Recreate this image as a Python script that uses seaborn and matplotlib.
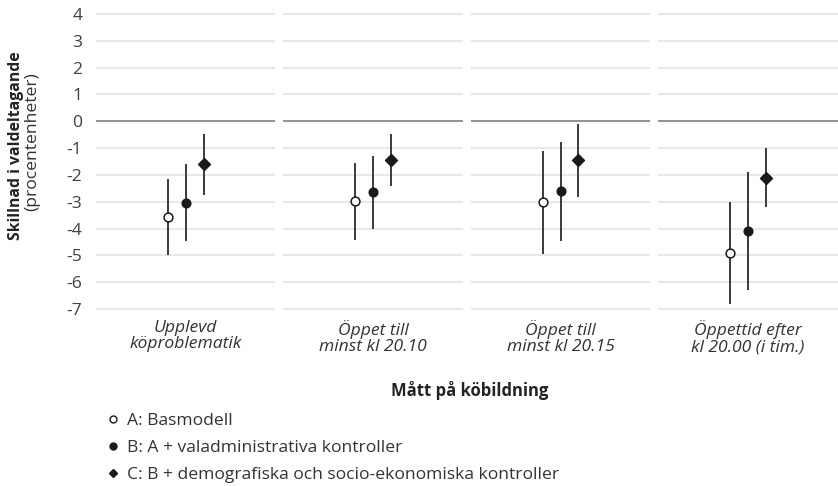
import pandas as pd
import seaborn as sns
import matplotlib.pyplot as plt
from matplotlib.lines import Line2D

# categories (x facets)
categories = [
    "Upplevd\nköproblematik",
    "Öppet till\nminst kl 20.10",
    "Öppet till\nminst kl 20.15",
    "Öppettid efter\nkl 20.00 (i tim.)",
]
models = [
    "A: Basmodell",
    "B: A + valadministrativa kontroller",
    "C: B + demografiska och socio-ekonomiska kontroller",
]

# point estimates and confidence interval bounds per model
est_a = [-3.57, -2.99, -3.02, -4.91]
lo_a = [-4.97, -4.44, -4.96, -6.80]
hi_a = [-2.16, -1.54, -1.11, -3.01]

est_b = [-3.04, -2.64, -2.60, -4.10]
lo_b = [-4.48, -4.01, -4.47, -6.30]
hi_b = [-1.59, -1.28, -0.78, -1.89]

est_c = [-1.60, -1.44, -1.46, -2.10]
lo_c = [-2.73, -2.42, -2.83, -3.21]
hi_c = [-0.49, -0.48, -0.09, -0.99]

y_ticks = list(range(-7, 5))

rows = []
for m, est, lo, hi in zip(models, [est_a, est_b, est_c], [lo_a, lo_b, lo_c], [hi_a, hi_b, hi_c]):
    for c, e, l, h in zip(categories, est, lo, hi):
        rows.append({"category": c, "model": m, "est": e, "lo": l, "hi": h})
df = pd.DataFrame(rows)
df["pos"] = df["model"].map({models[0]: -0.1, models[1]: 0.0, models[2]: 0.1})

sns.set_style("white")
plt.rcParams["font.family"] = ["Open Sans", "DejaVu Sans"]
plt.rcParams["axes.unicode_minus"] = False

fs = 12.6
ink = "#1a1a1a"
style = {
    models[0]: dict(marker="o", color="white", s=40),
    models[1]: dict(marker="o", color=ink, s=38),
    models[2]: dict(marker="D", color=ink, s=36),
}

fig, axes = plt.subplots(1, 4, figsize=(8.38, 4.86), dpi=100, sharey=True,
                         gridspec_kw={"wspace": 0.0446})
fig.subplots_adjust(left=0.1146, right=0.9996, top=0.9767, bottom=0.3586)

for ax, cat in zip(axes, categories):
    sub = df[df["category"] == cat]
    ax.vlines(sub["pos"], sub["lo"], sub["hi"], color="#2b2b2b", lw=1.3, zorder=2)
    for m in models:
        s = sub[sub["model"] == m]
        sns.scatterplot(data=s, x="pos", y="est", ax=ax, edgecolor=ink,
                        linewidth=1.1, zorder=3, legend=False, **style[m])
    ax.set_xlim(-0.5, 0.5)
    ax.set_ylim(-7.1, 4.1)
    ax.set_yticks(y_ticks)
    ax.set_xticks([0])
    ax.set_xticklabels([cat], fontsize=fs, style="italic", color="#333333",
                       linespacing=1.0)
    ax.set_xlabel("")
    ax.set_ylabel("")
    ax.grid(axis="y", color="#e8e8e8", lw=1.5)
    ax.axhline(0, color="#8c8c8c", lw=1.3, zorder=1)
    ax.tick_params(axis="x", length=0, pad=6)
    ax.tick_params(axis="y", length=0, pad=10, labelsize=fs, labelcolor="#404040")
    sns.despine(ax=ax, left=True, bottom=True)

fig.text(0.019, 1 - 146 / 486, "Skillnad i valdeltagande", rotation=90, ha="center",
         va="center", fontsize=11.3, fontweight="bold", color="#222222")
fig.text(0.039, 1 - 142 / 486, "(procentenheter)", rotation=90, ha="center",
         va="center", fontsize=fs, color="#333333")
fig.text(0.56, 1 - 390 / 486, "Mått på köbildning", ha="center", va="center",
         fontsize=12, fontweight="bold", color="#222222")

handles = [
    Line2D([], [], ls="", marker="o", ms=5, mfc="white", mec=ink, mew=1),
    Line2D([], [], ls="", marker="o", ms=5, mfc=ink, mec=ink),
    Line2D([], [], ls="", marker="D", ms=4.5, mfc=ink, mec=ink),
]
leg = fig.legend(handles, models, loc="upper left", bbox_to_anchor=(0.128, 1 - 413 / 486),
                 frameon=False, fontsize=fs, handlelength=0.6, handletextpad=0.5,
                 labelspacing=0.61, borderpad=0, borderaxespad=0)
for t in leg.get_texts():
    t.set_color("#333333")

fig.savefig("out.png", dpi=100)
